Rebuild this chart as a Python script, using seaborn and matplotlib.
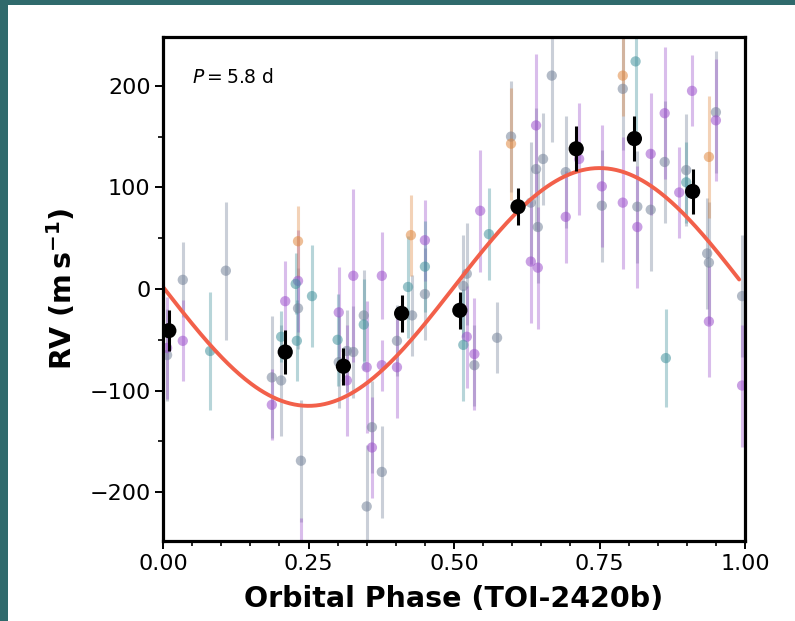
import numpy as np
import pandas as pd
import matplotlib
matplotlib.use("Agg")
import matplotlib.pyplot as plt
import seaborn as sns
from matplotlib.patches import Rectangle

# ---------------- data ----------------
gray_phase = [0.007, 0.034, 0.108, 0.187, 0.203, 0.232, 0.237, 0.316, 0.327, 0.302, 0.345, 0.359,
              0.350, 0.376, 0.402, 0.428, 0.450, 0.516, 0.522, 0.535, 0.574, 0.598, 0.632, 0.644,
              0.641, 0.653, 0.668, 0.692, 0.754, 0.790, 0.815, 0.838, 0.862, 0.899, 0.950, 0.935,
              0.938, 0.995]
gray_rv = [-65, 9, 18, -87, -90, -19, -169, -61, -62, -72, -26, -136,
           -214, -180, -51, -26, -5, 3, 15, -75, -48, 150, 85, 61,
           118, 128, 210, 115, 82, 197, 81, 78, 125, 117, 174, 35,
           26, -7]
gray_err = [45, 37, 68, 60, 55, 40, 60, 40, 45, 45, 45, 45,
            60, 45, 35, 40, 45, 50, 50, 40, 35, 55, 60, 55,
            60, 45, 65, 55, 55, 60, 55, 60, 60, 55, 60, 55,
            60, 60]

purple_phase = [0.007, 0.034, 0.187, 0.210, 0.232, 0.237, 0.302, 0.327, 0.316, 0.350, 0.359, 0.376,
                0.376, 0.402, 0.450, 0.522, 0.535, 0.545, 0.632, 0.644, 0.641, 0.692, 0.715, 0.754,
                0.790, 0.815, 0.838, 0.862, 0.887, 0.909, 0.950, 0.938, 0.995]
purple_rv = [-58, -51, -114, -12, 8, -265, -23, 13, -90, -77, -156, 13,
             -75, -77, 48, -47, -64, 77, 27, 21, 161, 71, 128, 101,
             85, 61, 133, 173, 95, 195, 166, -32, -95]
purple_err = [50, 40, 35, 40, 50, 40, 45, 85, 55, 65, 50, 43,
              25, 50, 40, 50, 55, 60, 60, 60, 70, 45, 55, 60,
              65, 60, 60, 65, 45, 35, 60, 55, 60]

teal_phase = [0.081, 0.203, 0.228, 0.230, 0.256, 0.300, 0.345, 0.421, 0.450, 0.516, 0.560, 0.812,
              0.899, 0.864]
teal_rv = [-61, -47, 5, -51, -7, -50, -35, 2, 22, -55, 54, 224, 105, -68]
teal_err = [58, 25, 30, 40, 50, 45, 45, 50, 45, 55, 45, 70, 40, 48]

orange_phase = [0.232, 0.426, 0.598, 0.790, 0.938]
orange_rv = [47, 53, 143, 210, 130]
orange_err = [35, 40, 55, 40, 60]

bin_phase = [0.01, 0.21, 0.31, 0.41, 0.51, 0.61, 0.71, 0.81, 0.91]
bin_rv = [-41, -62, -76, -24, -21, 81, 138, 148, 96]
bin_err = [20, 22, 18, 18, 18, 18, 22, 22, 22]

# circular-orbit model parameters
K_amp = 117.0
gamma = 2.0
model_phase = np.linspace(0, 0.99, 400)
model_rv = gamma - K_amp * np.sin(2 * np.pi * model_phase)

xticks = [0.0, 0.25, 0.5, 0.75, 1.0]
xticklabels = ["0.00", "0.25", "0.50", "0.75", "1.00"]
yticks = [-200, -100, 0, 100, 200]

# ---------------- plot ----------------
sns.set_theme(style="ticks")
plt.rcParams['font.family'] = ['DejaVu Sans']

fig = plt.figure(figsize=(7.95, 6.21), dpi=100)
fig.patch.set_facecolor("#2f6a6c")
bg = Rectangle((8 / 795, 0), 1, 1 - 5 / 621, transform=fig.transFigure,
               facecolor="white", edgecolor="none", zorder=-10)
fig.patches.append(bg)
ax = fig.add_axes([163 / 795, 1 - 541 / 621, 582 / 795, 504 / 621])
ax.set_zorder(5)
ax.set_facecolor("white")

groups = [
    (gray_phase, gray_rv, gray_err, "#75839a"),
    (purple_phase, purple_rv, purple_err, "#9d52cc"),
    (teal_phase, teal_rv, teal_err, "#43939d"),
    (orange_phase, orange_rv, orange_err, "#e08a42"),
]
for ph, rv, er, col in groups:
    df = pd.DataFrame({"phase": ph, "rv": rv, "err": er})
    ax.errorbar(df["phase"], df["rv"], yerr=df["err"], fmt="none", ecolor=col,
                elinewidth=2.2, alpha=0.38, zorder=1)
    sns.scatterplot(data=df, x="phase", y="rv", ax=ax, color=col, s=55, alpha=0.55,
                    edgecolor="none", zorder=1.5, legend=False)

mdf = pd.DataFrame({"phase": model_phase, "rv": model_rv})
sns.lineplot(data=mdf, x="phase", y="rv", ax=ax, color="#f2604a", lw=2.8, zorder=2)

bdf = pd.DataFrame({"phase": bin_phase, "rv": bin_rv, "err": bin_err})
ax.errorbar(bdf["phase"], bdf["rv"], yerr=bdf["err"], fmt="none", ecolor="black",
            elinewidth=2.2, zorder=3)
sns.scatterplot(data=bdf, x="phase", y="rv", ax=ax, color="black", s=120,
                edgecolor="none", zorder=4, legend=False)

ax.set_xlim(0, 1)
ax.set_ylim(-248, 248)
ax.set_xticks(xticks)
ax.set_xticklabels(xticklabels)
ax.set_yticks(yticks)
ax.set_yticklabels(["\u2212200", "\u2212100", "0", "100", "200"])
ax.xaxis.set_minor_locator(matplotlib.ticker.MultipleLocator(0.05))
ax.yaxis.set_minor_locator(matplotlib.ticker.MultipleLocator(50))
ax.tick_params(which="major", direction="out", length=6, width=1.4, labelsize=16,
               colors="black", pad=3)
ax.tick_params(which="minor", direction="out", length=3.5, width=1.2, colors="black")
for sp in ax.spines.values():
    sp.set_linewidth(2.3)
    sp.set_color("black")
    sp.set_visible(True)

ax.set_xlabel("Orbital Phase (TOI-2420b)", fontsize=20.5, fontweight="bold",
              labelpad=8, color="black")
ax.set_ylabel(r"RV $\mathregular{(m\,s^{-1})}$", fontsize=20.5, fontweight="bold",
              labelpad=8, color="black")
ax.text(0.05, 0.92, r"$P = 5.8$ d", transform=ax.transAxes, fontsize=13.5,
        ha="left", va="center", color="black")

fig.savefig("out.png", dpi=100, facecolor=fig.get_facecolor())
